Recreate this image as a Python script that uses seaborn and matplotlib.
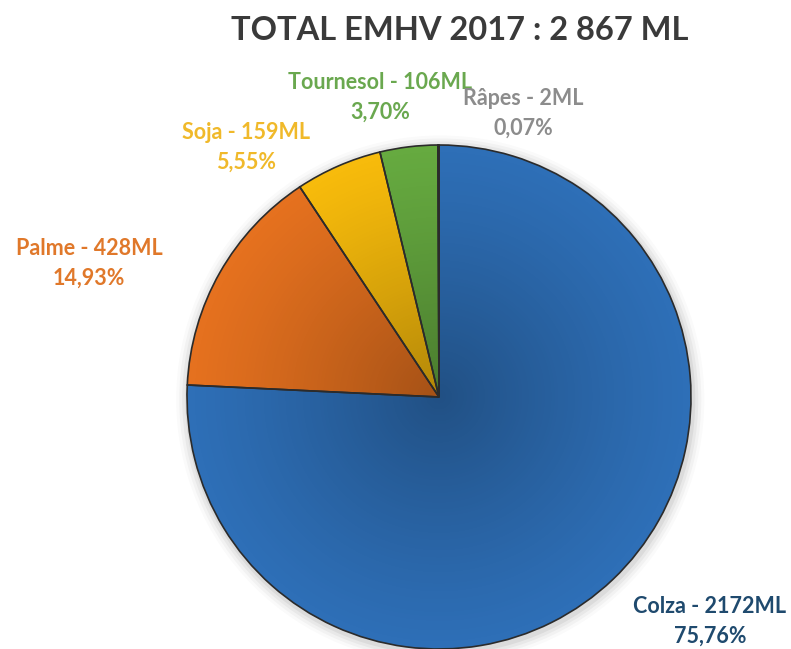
import numpy as np
import seaborn as sns
import matplotlib.pyplot as plt
from matplotlib.patches import Circle

# données
sources = ['Colza', 'Palme', 'Soja', 'Tournesol', 'Râpes']
volumes_ml = [2172, 428, 159, 106, 2]
parts = ['75,76%', '14,93%', '5,55%', '3,70%', '0,07%']
couleurs = ['#2E6FB7', '#E5711F', '#F7BB0C', '#66AA40', '#A6A6A6']
couleurs_texte = ['#1F4A6E', '#E0782A', '#F0B92A', '#6AA84F', '#8C8C8C']
titre = 'TOTAL EMHV 2017 : 2 867 ML'

sns.set_theme(style='white')
plt.rcParams['font.family'] = ['Lato', 'DejaVu Sans']

W, H = 791, 649
cx, cy, R = 439, 397, 252

fig = plt.figure(figsize=(W / 100, H / 100), dpi=100)
ax = fig.add_axes([0, 0, 1, 1])


def px(x, y):
    return (x - cx) / R, (cy - y) / R


# ombre douce
for i, a in enumerate([0.05, 0.04, 0.03, 0.02]):
    ax.add_patch(Circle((0.005, -0.01), 1 + 0.012 * (i + 1), color='black', alpha=a, lw=0, zorder=0))

wedges, _ = ax.pie(volumes_ml, colors=couleurs, startangle=90, counterclock=False,
                   radius=1, wedgeprops=dict(linewidth=0, zorder=1))

# dégradé radial (plus sombre au centre)
n = 400
g = np.linspace(-1, 1, n)
xx, yy = np.meshgrid(g, g)
rr = np.sqrt(xx ** 2 + yy ** 2)
shade = np.zeros((n, n, 4))
shade[..., 3] = np.clip(0.28 * (1 - rr) ** 1.2, 0, 1)
im = ax.imshow(shade, extent=(-1, 1, -1, 1), origin='lower', zorder=2, interpolation='bilinear')
im.set_clip_path(Circle((0, 0), 1, transform=ax.transData))

# contours
ax.pie(volumes_ml, colors=['none'] * 5, startangle=90, counterclock=False, radius=1,
       wedgeprops=dict(linewidth=1.2, edgecolor='#2B2B2B', zorder=3))

ax.set_xlim(-cx / R, (W - cx) / R)
ax.set_ylim((cy - H) / R, cy / R)
ax.set_aspect('equal', adjustable='box')
ax.axis('off')

# étiquettes
positions = [(710, 621), (89, 263), (246, 147), (380, 97), (523, 113)]
for src, vol, pct, col, (x, y) in zip(sources, volumes_ml, parts, couleurs_texte, positions):
    tx, ty = px(x, y)
    ax.text(tx, ty, f'{src} - {vol}ML\n{pct}', ha='center', va='center', color=col,
            fontsize=15.5, fontweight='bold', linespacing=1.5, zorder=5)

tx, ty = px(460, 30)
ax.text(tx, ty, titre, ha='center', va='center', color='#3A3A3A', fontsize=23.5, fontweight='bold')

fig.savefig('out.png', dpi=100)
